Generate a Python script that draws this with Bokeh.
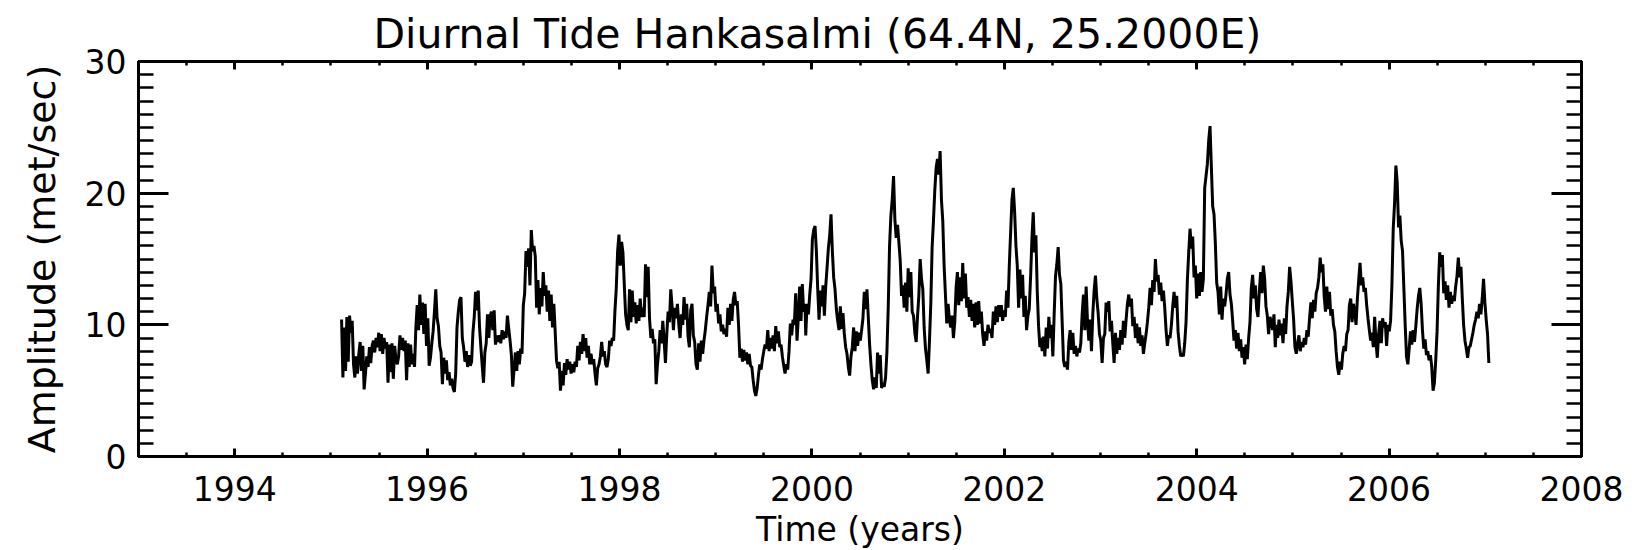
import numpy as np
from bokeh.plotting import figure
from bokeh.models import Range1d, LinearAxis, SingleIntervalTicker, ColumnDataSource, CustomJSTickFormatter
from bokeh.embed import file_html
from bokeh.resources import INLINE

TITLE = "Diurnal Tide Hankasalmi (64.4N, 25.2000E)"
X_LABEL = "Time (years)"
Y_LABEL = "Amplitude (met/sec)"

# segment time spans (decimal years) and amplitude readings (m/s)
seg1_span = (1995.111, 1997.483)
seg1_amp = [10.4, 6.0, 9.8, 6.5, 10.6, 7.2, 10.7, 9.4, 10.3, 7.0, 6.0, 7.6, 6.3, 7.8, 8.7, 6.5, 8.4, 5.1, 6.3, 7.6, 6.8, 8.3, 7.1, 8.4, 8.8, 7.9, 9.0, 8.3, 9.4, 8.0, 9.3, 7.8, 9.0, 8.2, 8.7, 5.6, 8.5, 6.4, 8.6, 5.9, 8.4, 7.4, 7.0, 7.6, 9.2, 8.1, 9.0, 8.0, 8.8, 5.8, 8.6, 6.8, 8.5, 7.0, 7.8, 6.8, 9.8, 11.5, 9.6, 12.3, 10.0, 11.7, 9.3, 11.6, 8.4, 10.5, 6.9, 7.5, 8.6, 9.5, 11.0, 12.7, 10.5, 9.9, 8.4, 7.9, 5.5, 7.5, 6.3, 7.3, 5.8, 6.4, 5.4, 5.9, 5.2, 4.9, 6.3, 9.8, 11.0, 11.9, 12.1, 9.0, 8.3, 7.2, 8.0, 6.8, 7.7, 6.9, 7.2, 9.4, 10.6, 12.5, 11.1, 12.6, 9.8, 8.3, 6.9, 5.6, 7.9, 8.6, 10.8, 9.0, 10.7, 11.0, 9.6, 11.1, 8.5, 9.2, 8.7, 9.2, 8.6, 9.6, 8.9, 9.5, 9.0, 10.7, 9.7, 8.8, 7.7, 5.3, 6.6, 7.9, 6.5, 8.0, 7.0, 8.2, 7.8, 11.5, 12.4, 15.6, 14.4, 15.8, 13.0, 17.2, 15.6, 16.0, 15.2, 11.3, 13.4, 10.8, 12.8, 11.4, 14.0, 12.2, 13.0, 11.0, 12.6, 10.3, 12.3, 9.8, 11.6, 9.5, 7.3, 6.7, 7.2, 5.0, 6.5, 5.4, 7.1, 6.2, 7.4, 6.6, 7.2]

seg2_span = (1997.497, 1999.928)
seg2_amp = [6.3, 7.0, 6.4, 7.2, 6.8, 8.4, 7.3, 8.7, 7.8, 9.3, 8.0, 9.0, 7.5, 8.4, 7.0, 7.8, 7.0, 7.4, 6.3, 5.4, 6.7, 7.0, 7.6, 8.7, 7.6, 8.0, 7.0, 6.8, 7.4, 8.8, 8.4, 9.0, 8.8, 11.1, 12.8, 15.6, 16.85, 14.5, 16.3, 15.5, 13.1, 10.8, 10.0, 9.6, 12.7, 10.2, 12.6, 10.6, 11.7, 10.1, 11.5, 10.3, 12.0, 10.6, 11.3, 10.6, 14.6, 12.1, 14.4, 10.5, 9.0, 9.7, 8.6, 8.9, 5.5, 7.0, 8.0, 9.6, 8.6, 10.3, 8.8, 7.1, 9.3, 11.0, 10.2, 12.7, 11.4, 9.6, 11.3, 10.5, 11.6, 10.1, 9.0, 10.8, 10.0, 12.1, 10.4, 11.6, 9.1, 8.3, 11.1, 11.6, 9.2, 8.7, 7.0, 6.6, 8.6, 7.2, 8.8, 7.8, 8.8, 9.6, 10.6, 11.5, 12.5, 11.4, 14.5, 12.4, 12.9, 11.0, 11.6, 10.1, 10.8, 9.5, 10.0, 9.3, 9.7, 9.1, 11.3, 10.0, 11.6, 10.3, 11.9, 12.5, 11.5, 11.8, 10.0, 7.5, 8.2, 7.2, 8.1, 7.3, 7.9, 7.0, 7.8, 6.9, 6.8, 5.8, 5.0, 4.6, 5.2, 6.2, 7.0, 6.6, 7.4, 8.0, 8.5, 8.2, 9.6, 8.0, 9.0, 8.2, 9.2, 8.0, 9.9, 8.6, 9.5, 8.3, 8.5, 7.6, 6.9, 6.3, 7.0, 6.6, 8.0, 10.1, 9.2, 10.4, 10.0, 12.4, 8.8, 10.6, 12.9, 10.3, 13.1, 11.0, 11.6]

seg3_span = (1999.936, 2002.370)
seg3_amp = [9.2, 11.6, 10.8, 12.3, 13.5, 16.5, 17.2, 17.5, 15.6, 12.7, 10.4, 12.6, 11.4, 13.0, 10.7, 12.9, 14.3, 15.8, 16.8, 18.4, 15.6, 13.6, 12.7, 11.2, 10.3, 9.6, 11.4, 9.7, 10.9, 9.3, 8.3, 7.8, 6.8, 6.15, 7.6, 8.3, 9.8, 8.0, 9.5, 8.4, 9.4, 8.8, 9.6, 10.5, 12.5, 11.2, 12.7, 10.6, 8.5, 7.0, 5.8, 5.1, 6.0, 5.2, 7.9, 6.3, 7.7, 5.2, 5.6, 5.3, 6.0, 7.9, 11.3, 16.0, 18.3, 19.5, 21.3, 18.0, 16.6, 17.6, 16.3, 14.9, 12.2, 13.0, 11.3, 13.2, 11.0, 14.3, 12.1, 14.0, 11.0, 10.7, 9.4, 8.7, 10.6, 12.2, 15.0, 13.5, 12.7, 9.8, 8.2, 7.3, 6.3, 8.8, 11.6, 15.9, 17.9, 20.2, 21.9, 22.6, 21.4, 23.2, 19.5, 17.9, 14.5, 12.3, 10.1, 11.6, 10.4, 9.8, 10.7, 9.0, 10.2, 12.8, 14.0, 11.5, 13.6, 11.8, 14.7, 12.0, 13.9, 11.3, 12.1, 10.6, 11.9, 10.3, 11.6, 9.8, 11.7, 10.0, 11.8, 10.1, 11.0, 9.3, 8.4, 9.5, 8.8, 10.0, 9.4, 9.7, 9.0, 11.0, 10.0, 11.4, 10.2, 11.5, 10.6, 11.5, 10.3, 11.1, 10.6, 12.6, 11.3, 14.5, 17.0, 19.5, 20.4, 18.6, 16.0, 14.5, 11.3, 14.2, 12.0, 13.8, 10.6, 12.2, 9.6, 10.7, 11.2, 13.6, 16.5, 18.55, 15.5, 16.8, 12.6, 9.9, 8.3]

seg4_span = (2002.380, 2004.817)
seg4_amp = [9.0, 8.0, 9.1, 7.6, 9.8, 8.2, 10.6, 9.0, 10.0, 7.6, 10.8, 13.7, 14.6, 15.9, 13.8, 13.1, 10.2, 7.3, 6.8, 7.2, 6.6, 8.7, 9.6, 8.1, 9.4, 7.8, 8.4, 7.6, 8.2, 7.9, 8.6, 10.8, 12.3, 9.6, 12.9, 10.3, 8.8, 10.4, 8.0, 10.8, 12.6, 13.74, 12.0, 10.9, 9.3, 8.8, 7.1, 9.0, 9.3, 11.7, 11.0, 11.8, 9.5, 10.3, 8.6, 7.1, 9.4, 7.8, 9.0, 8.1, 9.6, 8.5, 10.3, 9.0, 10.4, 11.6, 12.3, 11.4, 12.0, 9.9, 10.6, 9.0, 10.1, 8.6, 9.8, 8.4, 9.2, 7.8, 8.6, 9.3, 10.2, 11.3, 12.8, 11.5, 13.4, 12.5, 15.0, 13.3, 13.8, 12.3, 13.2, 11.8, 12.6, 11.3, 9.6, 8.4, 9.2, 9.0, 10.0, 11.4, 12.5, 11.3, 12.2, 9.5, 8.4, 7.6, 7.8, 7.6, 8.6, 10.2, 13.4, 15.5, 17.3, 15.8, 16.7, 13.6, 14.5, 12.0, 13.9, 12.2, 14.0, 12.5, 13.5, 20.4, 21.3, 22.2, 24.0, 25.1, 22.0, 19.0, 18.4, 16.2, 13.2, 12.5, 10.8, 12.9, 10.4, 12.0, 11.4, 12.3, 13.5, 14.0, 12.3, 11.6, 10.3, 8.8, 9.6, 8.2, 9.4, 8.0, 8.9, 7.5, 8.3, 7.0, 8.5, 7.4, 9.0, 10.2, 12.8, 13.8, 12.0, 13.0, 11.2, 10.6, 12.5, 14.0, 12.4, 14.5, 13.5, 11.4, 10.7, 9.3, 10.6, 10.2, 9.6, 10.8, 8.3]

seg5_span = (2004.828, 2007.037)
seg5_amp = [10.0, 9.0, 10.4, 9.2, 10.1, 8.6, 10.5, 9.3, 11.4, 12.5, 14.4, 13.3, 11.8, 10.4, 8.3, 7.8, 8.6, 9.2, 8.0, 8.7, 8.3, 9.0, 8.5, 9.6, 9.1, 10.5, 11.7, 10.5, 11.9, 11.0, 12.4, 12.8, 13.6, 15.1, 14.0, 14.6, 12.2, 11.0, 12.9, 11.2, 12.5, 10.7, 11.2, 10.0, 9.5, 8.0, 6.8, 6.2, 7.2, 6.6, 7.8, 8.4, 8.0, 9.3, 9.6, 11.5, 12.0, 10.2, 11.6, 11.0, 10.0, 12.0, 13.4, 14.7, 13.0, 13.6, 12.5, 12.8, 11.5, 10.5, 9.6, 8.8, 9.4, 8.3, 10.6, 8.7, 7.5, 9.3, 10.3, 8.6, 10.5, 9.8, 10.2, 8.4, 10.0, 9.5, 10.3, 13.0, 17.3, 19.2, 22.1, 20.8, 17.4, 18.3, 16.4, 15.6, 12.8, 10.0, 7.6, 7.0, 8.2, 9.5, 8.5, 9.6, 8.7, 9.9, 11.2, 12.2, 12.8, 11.6, 9.6, 8.2, 8.9, 7.7, 8.0, 7.3, 7.7, 6.8, 5.0, 5.6, 7.3, 9.5, 13.0, 15.5, 14.4, 15.3, 12.4, 13.3, 11.9, 13.0, 11.3, 12.5, 11.6, 12.2, 11.8, 12.9, 13.7, 15.1, 13.6, 14.4, 12.0, 10.0, 8.8, 8.2, 7.5, 8.3, 8.4, 8.9, 9.4, 10.0, 10.4, 11.0, 10.5, 11.6, 10.8, 12.0, 13.5, 11.7, 10.4, 9.3, 7.1]

segments = [(seg1_span, seg1_amp), (seg2_span, seg2_amp), (seg3_span, seg3_amp),
            (seg4_span, seg4_amp), (seg5_span, seg5_amp)]
t = np.concatenate([np.linspace(s[0], s[1], len(a)) for s, a in segments])
amp = np.concatenate([np.array(a, dtype=float) for _, a in segments])
src = ColumnDataSource(dict(t=t, amp=amp))

FONT = "DejaVu Sans"

p = figure(frame_width=1443, frame_height=395, output_backend="svg", toolbar_location=None,
           x_range=Range1d(1993, 2008), y_range=Range1d(0, 30),
           min_border_left=138, min_border_right=56, min_border_top=61, min_border_bottom=80,
           x_axis_label=X_LABEL, y_axis_label=Y_LABEL)
bottom = p.below[0]
left = p.left[0]

p.background_fill_color = "white"
p.border_fill_color = "white"
p.grid.visible = False
p.outline_line_color = "black"
p.outline_line_width = 3

p.title.text = TITLE
p.title.text_font = FONT
p.title.text_font_size = "41px"
p.title.text_font_style = "normal"
p.title.text_color = "black"
p.title.align = "left"
p.title.offset = 235
p.title.standoff = 8

xt = SingleIntervalTicker(interval=2, num_minor_ticks=4)
yt = SingleIntervalTicker(interval=10, num_minor_ticks=10)
bottom.ticker = xt
left.ticker = yt

blank = CustomJSTickFormatter(code="return '';")
right = LinearAxis(ticker=yt, formatter=blank)
top = LinearAxis(ticker=xt, formatter=blank)
p.add_layout(right, "right")
p.add_layout(top, "above")

def style(ax, maj_in, min_in):
    ax.axis_line_width = 3
    ax.axis_line_color = "black"
    ax.major_tick_line_width = 3
    ax.minor_tick_line_width = 2.5
    ax.major_tick_line_color = "black"
    ax.minor_tick_line_color = "black"
    ax.major_tick_out = 0
    ax.minor_tick_out = 0
    ax.major_tick_in = maj_in
    ax.minor_tick_in = min_in
    ax.major_label_text_font = FONT
    ax.major_label_text_color = "black"
    ax.major_label_text_font_size = "33px"
    ax.axis_label_text_font = FONT
    ax.axis_label_text_font_style = "normal"
    ax.axis_label_text_color = "black"

style(bottom, 8, 4)
style(top, 8, 4)
style(left, 30, 15)
style(right, 30, 15)
top.major_label_standoff = 0
right.major_label_standoff = 0

bottom.major_label_standoff = 19
bottom.axis_label_text_font_size = "33px"
bottom.axis_label_standoff = 6
left.major_label_standoff = 12
left.axis_label_text_font_size = "38px"
left.axis_label_standoff = 18

p.line("t", "amp", source=src, line_color="black", line_width=3)

open("out.html", "w").write(file_html(p, INLINE))
